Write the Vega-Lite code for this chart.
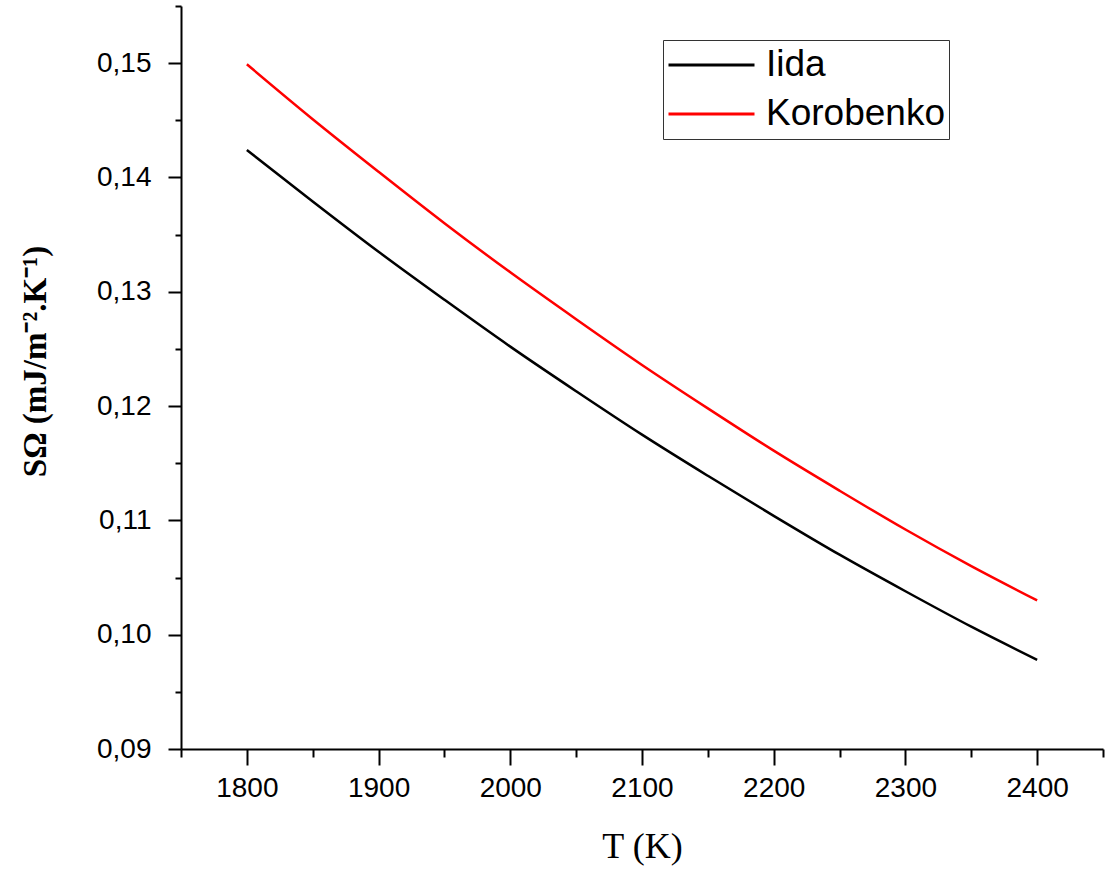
{
  "$schema": "https://vega.github.io/schema/vega-lite/v6.json",
  "width": 922,
  "height": 743,
  "autosize": {"type": "none"},
  "padding": {"left": 181, "top": 6, "right": 12, "bottom": 124},
  "background": "white",
  "config": {
    "view": {"stroke": null},
    "axis": {
      "grid": false,
      "domainColor": "black",
      "domainWidth": 2,
      "tickColor": "black",
      "tickWidth": 2,
      "labelColor": "black",
      "labelFont": "Liberation Sans",
      "labelFontSize": 28,
      "titleColor": "black",
      "titleFont": "Liberation Serif"
    }
  },
  "data": {
    "values": [
      {"T": 1800, "S": 0.1424, "model": "Iida"},
      {"T": 1850, "S": 0.1379, "model": "Iida"},
      {"T": 1900, "S": 0.1335, "model": "Iida"},
      {"T": 1950, "S": 0.1293, "model": "Iida"},
      {"T": 2000, "S": 0.1252, "model": "Iida"},
      {"T": 2050, "S": 0.1213, "model": "Iida"},
      {"T": 2100, "S": 0.1175, "model": "Iida"},
      {"T": 2150, "S": 0.1139, "model": "Iida"},
      {"T": 2200, "S": 0.1104, "model": "Iida"},
      {"T": 2250, "S": 0.1070, "model": "Iida"},
      {"T": 2300, "S": 0.1038, "model": "Iida"},
      {"T": 2350, "S": 0.1007, "model": "Iida"},
      {"T": 2400, "S": 0.0978, "model": "Iida"},
      {"T": 1800, "S": 0.1499, "model": "Korobenko"},
      {"T": 1850, "S": 0.1451, "model": "Korobenko"},
      {"T": 1900, "S": 0.1405, "model": "Korobenko"},
      {"T": 1950, "S": 0.1360, "model": "Korobenko"},
      {"T": 2000, "S": 0.1317, "model": "Korobenko"},
      {"T": 2050, "S": 0.1276, "model": "Korobenko"},
      {"T": 2100, "S": 0.1236, "model": "Korobenko"},
      {"T": 2150, "S": 0.1198, "model": "Korobenko"},
      {"T": 2200, "S": 0.1161, "model": "Korobenko"},
      {"T": 2250, "S": 0.1126, "model": "Korobenko"},
      {"T": 2300, "S": 0.1092, "model": "Korobenko"},
      {"T": 2350, "S": 0.1060, "model": "Korobenko"},
      {"T": 2400, "S": 0.1030, "model": "Korobenko"}
    ]
  },
  "mark": {"type": "line", "strokeWidth": 2.5, "interpolate": "monotone"},
  "encoding": {
    "x": {
      "field": "T",
      "type": "quantitative",
      "scale": {"domain": [1750, 2450], "nice": false, "zero": false},
      "axis": {
        "title": "T (K)",
        "titleFontSize": 36,
        "titleFontWeight": "normal",
        "titlePadding": 27,
        "values": [1750, 1800, 1850, 1900, 1950, 2000, 2050, 2100, 2150, 2200, 2250, 2300, 2350, 2400, 2450],
        "tickSize": {"condition": {"test": "datum.value % 100 === 0", "value": 16}, "value": 8},
        "labelExpr": "datum.value % 100 === 0 ? datum.label : ''",
        "labelPadding": 9,
        "format": "d"
      }
    },
    "y": {
      "field": "S",
      "type": "quantitative",
      "scale": {"domain": [0.09, 0.155], "nice": false, "zero": false},
      "axis": {
        "title": "SΩ (mJ/m⁻².K⁻¹)",
        "titleFontSize": 33,
        "titleFontWeight": "bold",
        "titlePadding": 44,
        "titleY": 355,
        "values": [0.09, 0.095, 0.1, 0.105, 0.11, 0.115, 0.12, 0.125, 0.13, 0.135, 0.14, 0.145, 0.15, 0.155],
        "tickSize": {"condition": {"test": "abs(round(datum.value * 100) - datum.value * 100) < 0.001", "value": 13}, "value": 6},
        "labelExpr": "abs(round(datum.value * 100) - datum.value * 100) < 0.001 ? replace(format(datum.value, '.2f'), '.', ',') : ''",
        "labelPadding": 17
      }
    },
    "color": {
      "field": "model",
      "type": "nominal",
      "scale": {"domain": ["Iida", "Korobenko"], "range": ["black", "red"]},
      "legend": {
        "title": null,
        "orient": "none",
        "legendX": 482,
        "legendY": 34,
        "strokeColor": "#333333",
        "fillColor": "white",
        "padding": 4,
        "labelFont": "Liberation Sans",
        "labelFontSize": 37,
        "labelLimit": 400,
        "labelColor": "black",
        "labelOffset": 10,
        "symbolType": "stroke",
        "symbolStrokeWidth": 3,
        "symbolSize": 7396,
        "clipHeight": 42,
        "rowPadding": 7
      }
    }
  }
}
